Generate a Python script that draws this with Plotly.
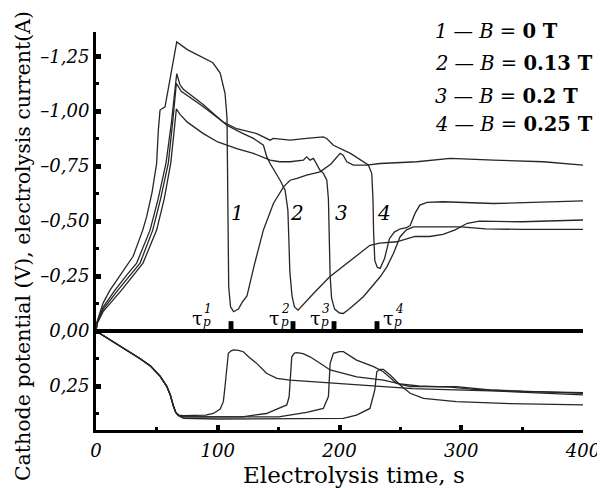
import plotly.graph_objects as go

# ---------------- data ----------------
# Electrolysis current (A) – plotted as negative values (upper part)
cur1_x = [0, 0.5, 5.8, 11.5, 17, 26.3, 30.5, 38.4, 41.6, 46, 49.8, 51.2, 52.6, 56.7, 66.3, 75, 85, 96, 102, 106, 107.6,
          108.3, 109, 110.5, 113, 117, 120, 124, 130, 137.5, 145.7, 154, 159.4, 165, 173, 184, 193, 200.5, 203, 206,
          211.4, 222.4, 233.4, 263.5, 291, 326.5, 367.6, 400]
cur1_y = [0, -0.036, -0.127, -0.186, -0.23, -0.309, -0.34, -0.459, -0.52, -0.63, -0.762, -0.914, -1.005, -1.02, -1.315,
          -1.28, -1.25, -1.22, -1.173, -1.08, -0.97, -0.5, -0.2, -0.11, -0.088, -0.1, -0.13, -0.16, -0.3, -0.46, -0.58,
          -0.656, -0.686, -0.694, -0.709, -0.724, -0.76, -0.808, -0.8, -0.77, -0.755, -0.755, -0.762, -0.77, -0.785,
          -0.777, -0.77, -0.755]

cur2_x = [0, 1, 6, 15.6, 26, 33.4, 44.4, 51, 57.5, 62, 64.5, 66.3, 69, 71.7, 88, 107.4, 120, 129.3, 137.5, 140.3, 143,
          151.2, 155.3, 157.6, 158.5, 159.2, 161, 163, 166, 170, 178.6, 192, 206, 225, 233, 247, 262, 274, 285, 295,
          305, 315, 350, 400]
cur2_y = [0, -0.04, -0.11, -0.186, -0.26, -0.309, -0.459, -0.6, -0.764, -0.95, -1.08, -1.17, -1.12, -1.1, -1.03, -0.936,
          -0.9, -0.876, -0.845, -0.792, -0.762, -0.686, -0.641, -0.55, -0.4, -0.27, -0.16, -0.11, -0.095, -0.12,
          -0.171, -0.247, -0.308, -0.39, -0.4, -0.406, -0.43, -0.43, -0.44, -0.46, -0.49, -0.5, -0.497, -0.505]

cur3_x = [0, 1, 6, 21, 38.6, 49.8, 56, 61.4, 64, 66, 69, 75, 88.2, 100, 115.6, 129.3, 143, 151, 159.4, 170.3, 173,
          175.8, 178.6, 184, 186.8, 189.6, 190.9, 191.5, 192.3, 193.5, 196, 200, 203, 208, 219.6, 233.4, 238.9,
          244.3, 249.8, 255, 260.7, 274, 300, 320, 350, 400]
cur3_y = [0, -0.035, -0.09, -0.186, -0.309, -0.459, -0.6, -0.764, -0.9, -1.01, -0.985, -0.95, -0.898, -0.86, -0.83,
          -0.808, -0.777, -0.77, -0.77, -0.777, -0.792, -0.777, -0.785, -0.731, -0.717, -0.686, -0.6, -0.4, -0.25,
          -0.15, -0.1, -0.082, -0.08, -0.1, -0.156, -0.247, -0.292, -0.353, -0.429, -0.46, -0.474, -0.474, -0.474,
          -0.465, -0.462, -0.462]

cur4_x = [0, 1, 6, 18, 36.2, 46.6, 53, 59.4, 63, 66, 70, 75, 88.2, 104.6, 115.6, 132, 143, 145.7, 159.4, 173, 186.7,
          189.5, 195, 209, 219.6, 223.7, 226.5, 227.5, 228, 229, 231, 233.4, 237, 241, 245, 250, 255, 258, 262, 266,
          272, 285, 326.5, 367.6, 400]
cur4_y = [0, -0.04, -0.1, -0.186, -0.309, -0.459, -0.6, -0.764, -0.95, -1.126, -1.09, -1.07, -1.02, -0.95, -0.92,
          -0.898, -0.868, -0.876, -0.868, -0.876, -0.883, -0.876, -0.845, -0.808, -0.77, -0.755, -0.716, -0.6, -0.45,
          -0.32, -0.29, -0.285, -0.33, -0.42, -0.45, -0.465, -0.47, -0.48, -0.535, -0.573, -0.585, -0.588, -0.58,
          -0.588, -0.592]

# Cathode potential (V) – positive values (lower part)
pot1_x = [0, 10, 22.4, 36, 45, 52.6, 58, 61, 63.5, 65.5, 67.6, 72, 90, 96.4, 102, 104.6, 106, 107.4, 108.7, 111, 113,
          117, 121, 126, 132, 140, 148.5, 159.4, 200.5, 241.6, 260, 323.7, 400]
pot1_y = [0, 0.035, 0.075, 0.125, 0.16, 0.205, 0.25, 0.29, 0.34, 0.37, 0.382, 0.385, 0.382, 0.375, 0.355, 0.321, 0.25,
          0.177, 0.101, 0.09, 0.086, 0.088, 0.094, 0.12, 0.147, 0.192, 0.215, 0.223, 0.238, 0.253, 0.262, 0.272, 0.29]

pot2_x = [0, 10, 22.4, 36, 45, 52.6, 58, 61, 63.5, 65.5, 67.6, 72, 120, 140, 148.5, 156.7, 158.6, 159.4, 160.8, 163,
          165, 170, 175.8, 185, 192.3, 214.2, 236, 249.8, 265, 291, 310, 350, 400]
pot2_y = [0, 0.035, 0.075, 0.125, 0.16, 0.205, 0.25, 0.29, 0.34, 0.37, 0.382, 0.39, 0.39, 0.375, 0.355, 0.336, 0.3,
          0.223, 0.117, 0.1, 0.098, 0.103, 0.117, 0.15, 0.177, 0.208, 0.223, 0.24, 0.25, 0.255, 0.265, 0.275, 0.28]

pot3_x = [0, 10, 22.4, 36, 45, 52.6, 58, 61, 63.5, 65.5, 67.6, 72, 150, 173, 186.7, 190.9, 192.3, 195, 200, 203.2,
          214, 228, 236, 247, 258, 296, 323.7, 400]
pot3_y = [0, 0.035, 0.075, 0.125, 0.16, 0.205, 0.25, 0.29, 0.34, 0.37, 0.382, 0.39, 0.39, 0.37, 0.352, 0.298, 0.147,
          0.101, 0.094, 0.094, 0.132, 0.162, 0.185, 0.238, 0.253, 0.253, 0.268, 0.283]

pot4_x = [0, 10, 22.4, 36, 45, 52.6, 58, 61, 63.5, 65.5, 67.6, 72, 100, 150, 203, 214, 225, 227.5, 229, 230.6, 233,
          236, 241.6, 249.8, 258, 269, 296, 340, 400]
pot4_y = [0, 0.035, 0.075, 0.125, 0.16, 0.205, 0.25, 0.29, 0.34, 0.37, 0.385, 0.397, 0.4, 0.4, 0.397, 0.382, 0.352,
          0.3, 0.268, 0.185, 0.174, 0.174, 0.2, 0.245, 0.283, 0.306, 0.321, 0.33, 0.336]

# transition times tau_p (s)
tau_x = [110.9, 161.8, 195.5, 230.8]
tau_label_x = [83, 147, 180, 240]
tau_sup = ["1", "2", "3", "4"]

# curve number labels
curve_labels = ["1", "2", "3", "4"]
curve_label_x = [116.6, 165.1, 202, 236.5]
curve_label_y = -0.536

legend_lines = [("1", "0"), ("2", "0.13"), ("3", "0.2"), ("4", "0.25")]

y_tickvals = [-1.25, -1.0, -0.75, -0.5, -0.25, 0.0, 0.25]
y_ticktext = ["–1,25", "–1,00", "–0,75", "–0,50", "–0,25", "0,00", "0,25"]
y_minor = [-1.125, -0.875, -0.625, -0.375, -0.125, 0.125, 0.375]
x_tickvals = [0, 100, 200, 300, 400]
x_ticktext = ["0", "100", "200", "300", "400"]
x_minor = [50, 150, 250, 350]

# ---------------- figure ----------------
fig = go.Figure()
line_style = dict(color="#262626", width=1.3)
for xs, ys in [(cur1_x, cur1_y), (cur2_x, cur2_y), (cur3_x, cur3_y), (cur4_x, cur4_y),
               (pot1_x, pot1_y), (pot2_x, pot2_y), (pot3_x, pot3_y), (pot4_x, pot4_y)]:
    fig.add_trace(go.Scatter(x=xs, y=ys, mode="lines", line=line_style,
                             showlegend=False, hoverinfo="skip"))

SERIF = "DejaVu Serif"

# tau markers on zero line
for t in tau_x:
    fig.add_shape(type="rect", xref="x", yref="y", x0=t - 2, x1=t + 2, y0=0, y1=-0.045,
                  fillcolor="black", line=dict(width=0), layer="above")

for lx, s in zip(tau_label_x, tau_sup):
    fig.add_annotation(x=lx, y=-0.059, xref="x", yref="y", text="τ", showarrow=False,
                       font=dict(family=SERIF, size=19, color="black"))
    fig.add_annotation(x=lx, y=-0.059, xref="x", yref="y", text="<i>p</i>", showarrow=False,
                       xshift=10, yshift=-4, font=dict(family=SERIF, size=12, color="black"))
    fig.add_annotation(x=lx, y=-0.059, xref="x", yref="y", text="<i>" + s + "</i>", showarrow=False,
                       xshift=11, yshift=9, font=dict(family=SERIF, size=12, color="black"))

for lab, lx in zip(curve_labels, curve_label_x):
    fig.add_annotation(x=lx, y=curve_label_y, xref="x", yref="y", text="<i>" + lab + "</i>",
                       showarrow=False, font=dict(family=SERIF, size=20, color="black"))

leg_y = [1.001, 0.92, 0.839, 0.767]
for (n, b), yy in zip(legend_lines, leg_y):
    fig.add_annotation(x=0.692, y=yy, xref="paper", yref="paper", xanchor="left", yanchor="middle",
                       text="<i>" + n + "</i> — <i>B</i> = <b>" + b + " T</b>", showarrow=False,
                       font=dict(family=SERIF, size=19.5, color="black"))

# axis titles
fig.add_annotation(x=0.53, y=-0.113, xref="paper", yref="paper", xanchor="center", yanchor="middle",
                   text="Electrolysis time, s", showarrow=False,
                   font=dict(family=SERIF, size=23, color="black"))
fig.add_annotation(x=-0.150, y=0.462, xref="paper", yref="paper", xanchor="center", yanchor="middle",
                   text="Cathode potential (V), electrolysis current(A)", textangle=-90, showarrow=False,
                   font=dict(family=SERIF, size=20.5, color="black"))

# the page body has an 8 px margin; figure size/margins compensate so the plot area
# lands at x 96..583, y 32..430 of the 605x488 window
fig.update_layout(
    width=597, height=480,
    margin=dict(l=88, r=22, t=24, b=58),
    plot_bgcolor="white", paper_bgcolor="white",
    xaxis=dict(range=[0, 400], showline=True, linewidth=3, linecolor="black", showgrid=False,
               automargin=False, ticklabeloverflow="allow",
               zeroline=False, ticks="inside", ticklen=5, tickwidth=4, tickcolor="black",
               tickvals=x_tickvals, ticktext=["<i>" + t + "</i>" for t in x_ticktext],
               tickfont=dict(family=SERIF, size=18, color="black"), ticklabelstandoff=2,
               minor=dict(tickvals=x_minor, ticks="inside", ticklen=3, tickwidth=3, tickcolor="black")),
    yaxis=dict(range=[0.45, -1.36], showline=True, linewidth=3, linecolor="black", showgrid=False,
               automargin=False,
               zeroline=True, zerolinewidth=4, zerolinecolor="black",
               ticks="inside", ticklen=5, tickwidth=5, tickcolor="black",
               tickvals=y_tickvals, ticktext=["<i>" + t + "</i>" for t in y_ticktext],
               tickfont=dict(family=SERIF, size=18, color="black"),
               minor=dict(tickvals=y_minor, ticks="inside", ticklen=3, tickwidth=3, tickcolor="black")),
)

fig.write_html("out.html")
